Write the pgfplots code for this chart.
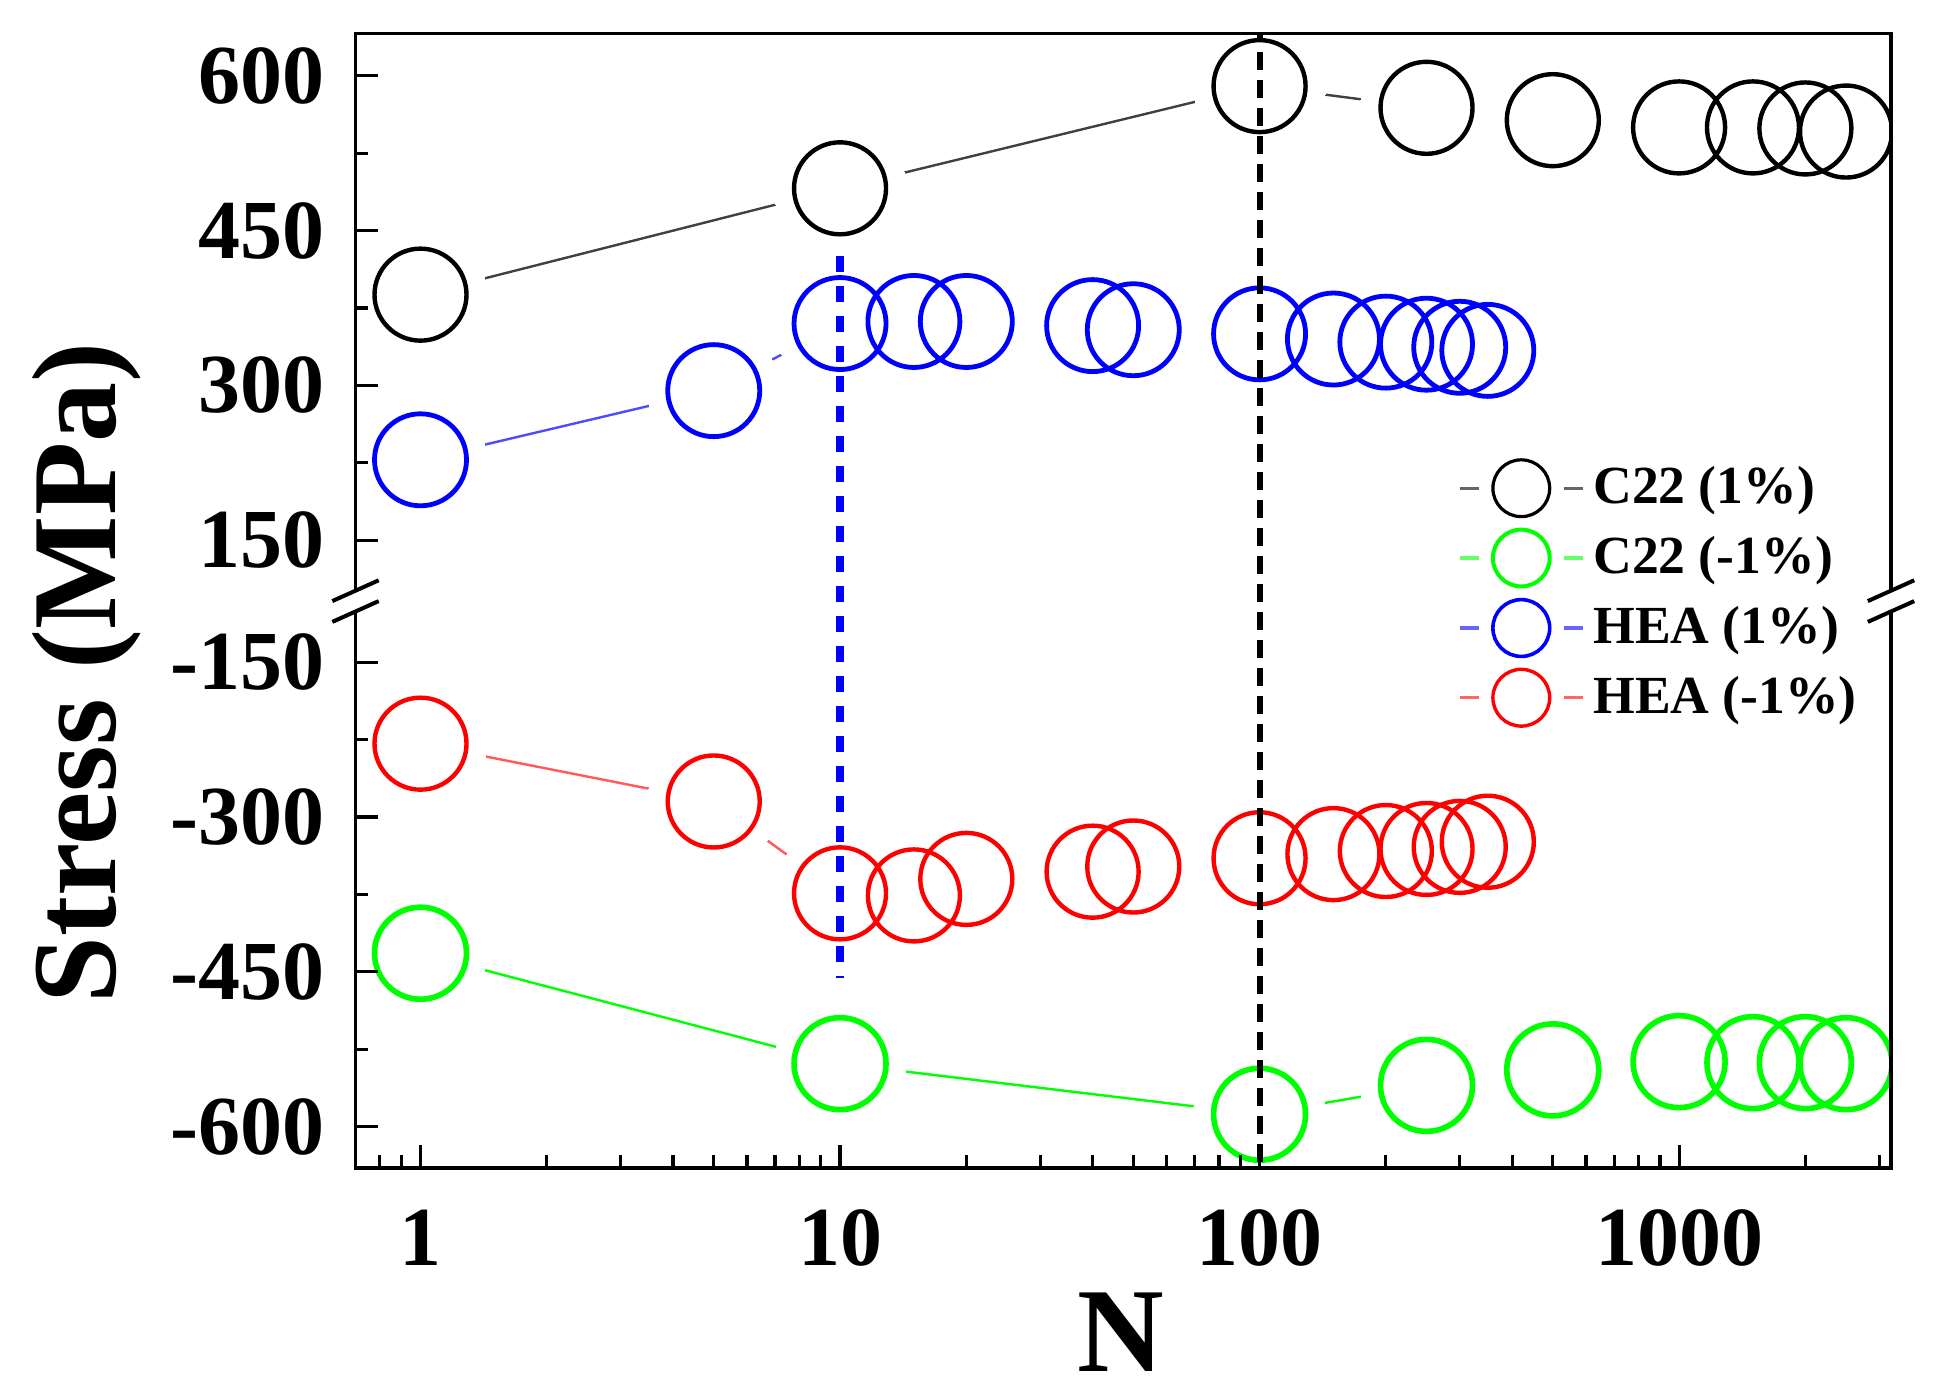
\documentclass[border=0pt]{standalone}
\usepackage{fontspec}
\setmainfont{Liberation Serif}
\usepackage{pgfplots}
\usepackage{pgfplotstable}
\pgfplotsset{compat=1.18}
\usetikzlibrary{calc}

\pgfplotstableread{
N S
1 388
10 491
100 590
250 569
500 557
1000 550
1500 550
2000 549
2500 546
}\cblack

\pgfplotstableread{
N S
1 -432
10 -539
100 -588
250 -560
500 -545
1000 -537
1500 -538
2000 -538
2500 -539
}\cgreen

\pgfplotstableread{
N S
1 228
5 295
10 360
15 362
20 362
40 358
50 354
100 350
150 345
200 342
250 340
300 337
350 334
}\hblue

\pgfplotstableread{
N S
1 -229
5 -285
10 -374
15 -376
20 -360
40 -353
50 -348
100 -340
150 -336
200 -333
250 -331
300 -329
350 -324
}\hred

\pgfplotsset{
  myleg/.style 2 args={legend image code/.code={
    \draw[#1!60,line width=0.8pt] (0pt,0pt) -- (4.65pt,0pt);
    \draw[#1!60,line width=0.8pt] (25.95pt,0pt) -- (30.7pt,0pt);
    \draw[#1,line width=#2] (15.3pt,0pt) circle (7.1pt);
  }},
  gapline/.style={line width=0.6pt, forget plot},
  gapdisc/.style={white, only marks, mark=*, mark size=16.5pt, mark options={draw=white, fill=white, line width=0pt}, forget plot},
  ring/.style={only marks, mark=o, mark size=11.5pt, mark options={line width=#1}},
}

\begin{document}
\begin{tikzpicture}
\begin{axis}[
  name=ax,
  scale only axis,
  width=383.875pt, height=283.6pt,
  xmode=log,
  xmin=0.7, xmax=3200,
  ymin=-640, ymax=641,
  y coord trafo/.code={\pgfmathparse{#1>0 ? #1-91 : #1+91}},
  y coord inv trafo/.code={\pgfmathparse{#1>0 ? #1+91 : #1-91}},
  clip marker paths=true,
  xtick={1,10,100,1000},
  xticklabels={1,10,100,1000},
  minor xtick={0.8,0.9,2,3,4,5,6,7,8,9,20,30,40,50,60,70,80,90,200,300,400,500,600,700,800,900,2000,3000},
  ytick={-600,-450,-300,-150,150,300,450,600},
  yticklabels={-600,-450,-300,-150,150,300,450,600},
  minor ytick={-525,-375,-225,225,375,525},
  tick align=inside,
  xtick pos=bottom, ytick pos=left,
  major tick length=5.75pt, minor tick length=3.25pt,
  tick style={line width=0.8pt, black},
  axis line style={line width=0.9pt},
  axis on top,
  tick label style={font=\fontsize{21}{25}\selectfont\bfseries},
  xticklabel style={anchor=base, yshift=-24.5pt},
  yticklabel style={anchor=east, inner sep=0pt, xshift=-7.6pt},
  xlabel={N},
  ylabel={Stress (MPa)},
  label style={font=\fontsize{30}{36}\selectfont\bfseries},
  xlabel style={at={(rel axis cs:0.4985,-0.1798)}, anchor=base},
  ylabel style={at={(rel axis cs:-0.1566,0.4363)}, anchor=base},
  legend cell align=left,
  legend style={draw=none, fill=none, inner sep=0pt, row sep=2.35pt,
    at={(rel axis cs:0.7178,0.6263)}, anchor=north west,
    font=\fontsize{13.4}{16}\selectfont\bfseries,
    nodes={inner sep=0pt},
    /tikz/every odd column/.append style={column sep=2.2pt}},
]
% connecting lines
\addplot[black!75, gapline] table[x=N,y=S] {\cblack};
\addplot[green, gapline] table[x=N,y=S] {\cgreen};
\addplot[blue!70, gapline] table[x=N,y=S] {\hblue};
\addplot[red!65, gapline] table[x=N,y=S] {\hred};
% gaps around the circles
\addplot[gapdisc] table[x=N,y=S] {\cblack};
\addplot[gapdisc] table[x=N,y=S] {\cgreen};
\addplot[gapdisc] table[x=N,y=S] {\hblue};
\addplot[gapdisc] table[x=N,y=S] {\hred};
% circles
\addplot[black, ring=1.1pt, myleg={black}{0.8pt}] table[x=N,y=S] {\cblack};
\addlegendentry{C22 (1\%)}
\addplot[green, ring=1.4pt, myleg={green}{1pt}] table[x=N,y=S] {\cgreen};
\addlegendentry{C22 (-1\%)}
\addplot[blue, ring=1.2pt, myleg={blue}{0.9pt}] table[x=N,y=S] {\hblue};
\addlegendentry{HEA (1\%)}
\addplot[red, ring=1.1pt, myleg={red}{0.85pt}] table[x=N,y=S] {\hred};
\addlegendentry{HEA (-1\%)}
% vertical dashed lines
\addplot[black, line width=1.5pt, dash pattern=on 4.5pt off 2.5pt, forget plot] coordinates {(100,650) (100,-650)};
\addplot[blue, line width=2pt, dash pattern=on 4pt off 3.5pt, forget plot] coordinates {(10,425) (10,-456)};
\end{axis}
% axis breaks
\foreach \a in {ax.west, ax.east} {
  \fill[white, shift={(\a)}] (-1.6pt,-2.6pt) rectangle (1.6pt,2.5pt);
  \draw[line width=1pt, shift={(\a)}] (-5.8pt,-0.1pt) -- (5.8pt,5.1pt);
  \draw[line width=1pt, shift={(\a)}] (-5.8pt,-5.3pt) -- (5.8pt,-0.1pt);
}
\pgfresetboundingbox
\path[use as bounding box] ($(ax.south west)+(-88.875pt,-57.75pt)$) rectangle ($(ax.north east)+(12pt,8.375pt)$);
\end{tikzpicture}
\end{document}
